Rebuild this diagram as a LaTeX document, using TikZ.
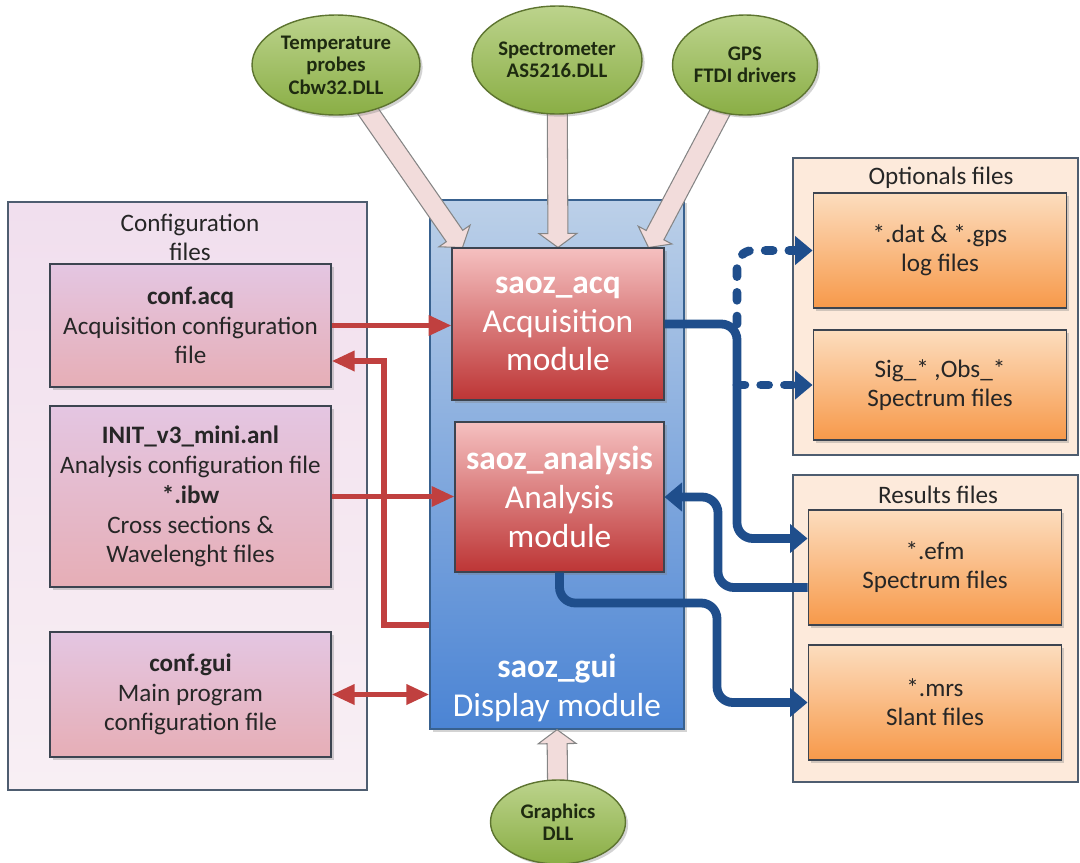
\documentclass[tikz,border=0pt]{standalone}
\usepackage{fontspec}
\setmainfont{Carlito}
\usetikzlibrary{arrows.meta,calc,shapes.geometric,shadows}

\definecolor{cfgareatop}{HTML}{F1DFEE}
\definecolor{cfgareabot}{HTML}{F8EFF4}
\definecolor{filearea}{HTML}{FDEADB}
\definecolor{arealine}{HTML}{4E5D70}
\definecolor{boxline}{HTML}{3C4450}
\definecolor{cfgtop}{HTML}{E4C6E2}
\definecolor{cfgbot}{HTML}{E6AEB6}
\definecolor{guitop}{HTML}{BCD0E8}
\definecolor{guibot}{HTML}{4B84D4}
\definecolor{guiline}{HTML}{38618F}
\definecolor{modtop}{HTML}{F5C0C0}
\definecolor{modbot}{HTML}{BD3535}
\definecolor{orgtop}{HTML}{FCDDBE}
\definecolor{orgbot}{HTML}{F7994A}
\definecolor{drvtop}{HTML}{BCD38C}
\definecolor{drvbot}{HTML}{8AAE45}
\definecolor{drvline}{HTML}{5D7430}
\definecolor{drvtext}{HTML}{1E2A10}
\definecolor{blockfill}{HTML}{F2DCDB}
\definecolor{blockline}{HTML}{858585}
\definecolor{myred}{HTML}{C0403F}
\definecolor{myblue}{HTML}{1F4E8C}
\definecolor{textdark}{HTML}{262626}

\pgfdeclarelayer{back}
\pgfdeclarelayer{mid}
\pgfsetlayers{back,mid,main}

% hollow block arrow from #1 to the tip #2
\newcommand{\blockarrow}[2]{%
  \coordinate (ba-c) at ($(#2)!0.28cm!(#1)$);
  \draw[blockarr] ($(#1)!0.2cm!90:(#2)$) -- ($(ba-c)!0.2cm!-90:(#1)$)
    -- ($(ba-c)!0.38cm!-90:(#1)$) -- (#2) -- ($(ba-c)!0.38cm!90:(#1)$)
    -- ($(ba-c)!0.2cm!90:(#1)$) -- ($(#1)!0.2cm!-90:(#2)$) -- cycle;}

\begin{document}
\begin{tikzpicture}[
  x=0.02cm, y=-0.02cm,
  font=\fontsize{14.3}{16.6}\selectfont,
  area/.style={draw=arealine, line width=0.6pt},
  shade/.style={drop shadow={opacity=0.35, shadow xshift=1.5pt, shadow yshift=-1.5pt}},
  cfgbox/.style={draw=boxline, line width=0.8pt, top color=cfgtop, bottom color=cfgbot,
    minimum width=5.62cm, align=center, text=textdark, shade},
  modbox/.style={draw=boxline, line width=0.6pt, top color=modtop, bottom color=modbot,
    align=center, text=white, font=\fontsize{19}{22}\selectfont, shade},
  filebox/.style={draw=boxline, line width=0.8pt, top color=orgtop, bottom color=orgbot,
    minimum width=5.07cm, minimum height=2.3cm, align=center, text=textdark, shade},
  drv/.style={ellipse, draw=drvline, line width=0.8pt, top color=drvtop, bottom color=drvbot,
    align=center, inner sep=0pt, text=drvtext, font=\fontsize{11.8}{12.8}\selectfont\bfseries, shade},
  blockarr/.style={draw=blockline, fill=blockfill, line width=0.6pt},
  redarr/.style={draw=myred, line width=3pt, -{Triangle[length=13pt,width=11pt]}},
  redboth/.style={draw=myred, line width=3pt, {Triangle[length=13pt,width=11pt]}-{Triangle[length=13pt,width=11pt]}},
  bluearr/.style={draw=myblue, line width=5pt, rounded corners=9pt, -{Triangle[length=10pt,width=16pt]}},
  bluedash/.style={bluearr, line cap=round, dash pattern=on 4.5pt off 9pt}
]
  \useasboundingbox (0,0) rectangle (1080,863);

  % containers
  \begin{pgfonlayer}{back}
    \draw[area, top color=cfgareatop, bottom color=cfgareabot] (8,202) rectangle (367,790);
    \draw[area, fill=filearea] (793,158) rectangle (1078,455);
    \draw[area, fill=filearea] (793,475) rectangle (1078,782);
    \node[draw=guiline, line width=0.8pt, top color=guitop, bottom color=guibot,
      minimum width=5.08cm, minimum height=10.58cm, shade] (gui) at (557,464.5) {};
  \end{pgfonlayer}
  \node[align=center, text=textdark] (cfgtitle) at (190,237) {Configuration\\files};
  \node[text=textdark] (opttitle) at (941,178) {Optionals files};
  \node[text=textdark] (restitle) at (938,495) {Results files};

  % configuration files
  \node[cfgbox, minimum height=2.46cm] (acqcfg) at (190.5,325.5)
    {\textbf{conf.acq}\\Acquisition configuration\\file};
  \node[cfgbox, minimum height=3.62cm, font=\fontsize{14.3}{17}\selectfont] (initcfg) at (190.5,496.5)
    {\textbf{INIT\_v3\_mini.anl}\\Analysis configuration file\\\textbf{*.ibw}\\Cross sections \&\\Wavelenght files};
  \node[cfgbox, minimum height=2.5cm] (guicfg) at (190.5,694.5)
    {\textbf{conf.gui}\\Main program\\configuration file};

  % modules
  \node[modbox, minimum width=4.24cm, minimum height=3.04cm] (acq) at (558,324)
    {\textbf{saoz\_acq}\\Acquisition\\module};
  \node[modbox, minimum width=4.18cm, minimum height=3.0cm] (ana) at (559.5,497)
    {\textbf{saoz\_analysis}\\Analysis\\module};
  \node[align=center, text=white, font=\fontsize{19}{22}\selectfont] (guilabel) at (557,688)
    {\textbf{saoz\_gui}\\Display module};

  % output files
  \node[filebox] (dat) at (940,250.5) {*.dat \& *.gps\\log files};
  \node[filebox, minimum height=2.2cm] (sig) at (940,385) {Sig\_* ,Obs\_*\\Spectrum files};
  \node[filebox] (efm) at (935,567.5) {*.efm\\Spectrum files};
  \node[filebox] (mrs) at (935,702.5) {*.mrs\\Slant files};

  % drivers
  \node[drv, minimum width=3.36cm, minimum height=2.0cm] (temp) at (336,65)
    {Temperature\\probes\\Cbw32.DLL};
  \node[drv, minimum width=3.4cm, minimum height=2.16cm] (spec) at (557,60)
    {Spectrometer\\AS5216.DLL};
  \node[drv, minimum width=2.9cm, minimum height=2.0cm, inner xsep=-6pt] (gps) at (745,65)
    {GPS\\FTDI drivers};
  \node[drv, minimum width=2.7cm, minimum height=1.68cm] (gfx) at (558,822)
    {Graphics\\DLL};

  \coordinate (tipTemp) at ([xshift=0.22cm]acq.north west);
  \coordinate (tipGps) at ([xshift=-0.32cm]acq.north east);
  \begin{pgfonlayer}{mid}
    \blockarrow{temp}{tipTemp}
    \blockarrow{spec}{acq.north}
    \blockarrow{gps}{tipGps}
    \blockarrow{gfx}{gui.south}
  \end{pgfonlayer}

  % red links
  \coordinate (guiOut) at (gui.west |- 0,625);
  \coordinate (acqcfgIn) at ([yshift=-0.71cm]acqcfg.east);
  \draw[redarr] (acqcfg.east) -- (acqcfg.east -| acq.west);
  \draw[redarr] (initcfg.east) -- (initcfg.east -| ana.west);
  \draw[redarr] (guiOut) -- (guiOut -| 384,0) |- (acqcfgIn);
  \draw[redboth] (guicfg.east) -- (guicfg.east -| gui.west);

  % blue links
  \coordinate (split) at (acq.east -| 737,0);
  \coordinate (efmIn) at ([yshift=0.58cm]efm.west);
  \coordinate (efmOut) at ([yshift=-0.4cm]efm.west);
  \draw[bluedash] (split) |- (dat.west);
  \draw[bluedash] (split |- sig.west) -- (sig.west);
  \draw[bluearr] (acq.east) -- (split) |- (efmIn);
  \draw[bluearr] (efmOut) -- (efmOut -| 718,0) |- (ana.east);
  \draw[bluearr] (ana.south) -- (ana.south |- 0,603) -- (717,603) |- (mrs.west);
\end{tikzpicture}
\end{document}
